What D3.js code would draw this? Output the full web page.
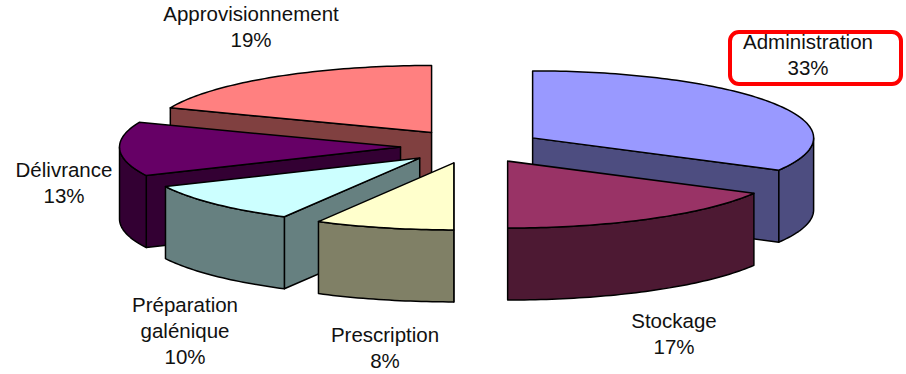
<!DOCTYPE html>
<html>
<head>
<meta charset="utf-8">
<script src="https://cdn.jsdelivr.net/npm/d3@7/dist/d3.min.js"></script>
<style>
html,body{margin:0;padding:0;background:#fff}
svg{display:block}
text{font-family:"Liberation Sans",Arial,sans-serif;font-size:20.5px;fill:#111}
</style>
</head>
<body>
<svg id="chart" width="906" height="374"></svg>
<script>
const categories = ["Administration","Stockage","Prescription","Préparation galénique","Délivrance","Approvisionnement"];
const shares = [33,17,8,10,13,19];
const topColors = ["#9999ff","#993366","#ffffcc","#ccffff","#660066","#ff8080"];
const wallColors = ["#4d4d80","#4d1933","#808066","#668080","#330033","#804040"];
const labelLines = [["Administration"],["Stockage"],["Prescription"],["Préparation","galénique"],["Délivrance"],["Approvisionnement"]];
const labelAnchors = [[808,49],[674,328],[385,342],[185,312],[64,177],[251,21]];
// back-to-front painting order of the wedges
const paintOrder = [5,0,4,3,1,2];

const svg = d3.select("#chart");
const cx = 471.5, cy = 146.5, rx = 281, ry = 67, depth = 72, explode = 0.2527;
const sx = d3.scaleLinear().domain([-1,1]).range([cx-rx,cx+rx]);
const sy = d3.scaleLinear().domain([-1,1]).range([cy-ry,cy+ry]);

const arcs = d3.pie().sort(null).value(d=>d)(shares);
const line = d3.line();

function rimPoints(a0,a1,ox,oy,dy){
  const n = Math.max(2,Math.ceil((a1-a0)/0.02));
  return d3.range(n+1).map(i=>{
    const a = a0+(a1-a0)*i/n;
    return [sx(Math.sin(a))+ox, sy(-Math.cos(a))+oy+dy];
  });
}

paintOrder.forEach(i=>{
  const d = arcs[i];
  const mid = (d.startAngle+d.endAngle)/2;
  const ox = sx(explode*Math.sin(mid))-cx;
  const oy = sy(-explode*Math.cos(mid))-cy;
  const apex = [cx+ox,cy+oy];
  const g = svg.append("g").attr("stroke","#000").attr("stroke-width",1.5).attr("stroke-linejoin","round");

  // radial walls: a wedge shows its start wall on the left half, its end wall on the right half
  const walls = [];
  if(d.startAngle>=Math.PI) walls.push(d.startAngle);
  if(d.endAngle<=Math.PI) walls.push(d.endAngle);
  walls.forEach(a=>{
    const p = [sx(Math.sin(a))+ox, sy(-Math.cos(a))+oy];
    g.append("path")
      .attr("d",line([apex,p,[p[0],p[1]+depth],[apex[0],apex[1]+depth]])+"Z")
      .attr("fill",wallColors[i]);
  });

  // outer rim, only where it faces the viewer
  const a0 = Math.max(d.startAngle,Math.PI/2), a1 = Math.min(d.endAngle,3*Math.PI/2);
  if(a1>a0){
    const upper = rimPoints(a0,a1,ox,oy,0);
    const lower = rimPoints(a0,a1,ox,oy,depth).reverse();
    g.append("path").attr("d",line(upper.concat(lower))+"Z").attr("fill",wallColors[i]);
  }

  // top face
  g.append("path")
    .attr("d",line([apex].concat(rimPoints(d.startAngle,d.endAngle,ox,oy,0)))+"Z")
    .attr("fill",topColors[i]);
});

// category labels with their share on the last line
categories.forEach((c,i)=>{
  const [x,y] = labelAnchors[i];
  const t = svg.append("text").attr("text-anchor","middle");
  labelLines[i].concat([shares[i]+"%"]).forEach((s,k)=>{
    t.append("tspan").attr("x",x).attr("y",y+k*26).text(s);
  });
});

// highlight around the Administration label
svg.append("rect").attr("x",730).attr("y",32).attr("width",171).attr("height",52)
  .attr("rx",9).attr("fill","none").attr("stroke","#f00").attr("stroke-width",4);
</script>
</body>
</html>
